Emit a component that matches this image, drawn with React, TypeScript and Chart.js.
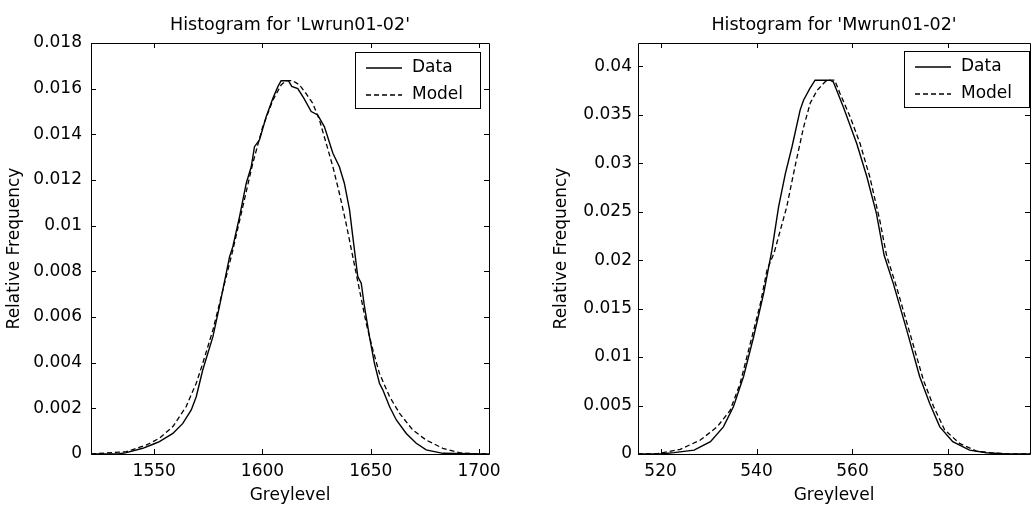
import React, { useEffect, useRef } from "react";
import { Chart, registerables } from "chart.js";

Chart.register(...registerables);

// ---------- Data: left panel (Lwrun01-02) ----------
const lwDataX = [1520.8, 1534, 1537.1, 1544.7, 1550, 1552.4, 1558.6, 1563.2, 1567.1, 1569.4, 1572.4, 1577.1, 1580.1, 1584.8, 1586.3, 1589.4, 1592.5, 1594.8, 1596.3, 1598.6, 1601.7, 1604.8, 1607.1, 1608.6, 1612, 1613.5, 1616.3, 1619, 1622.5, 1625.5, 1628.6, 1632.5, 1635.5, 1637.8, 1640.2, 1641.7, 1644, 1645.6, 1647.1, 1649.4, 1651.7, 1654, 1655.6, 1658.7, 1661.8, 1666.4, 1671, 1675.6, 1683.3, 1700, 1704.6];
const lwDataY = [0, 0.00001, 0.00006, 0.00025, 0.00045, 0.00054, 0.0009, 0.00134, 0.00193, 0.00251, 0.00368, 0.00514, 0.00645, 0.00864, 0.00908, 0.0104, 0.01186, 0.01258, 0.01346, 0.01375, 0.01477, 0.01558, 0.01609, 0.01635, 0.01635, 0.0161, 0.016, 0.0156, 0.015, 0.01485, 0.01433, 0.01317, 0.01258, 0.01186, 0.01069, 0.00952, 0.00777, 0.00748, 0.00645, 0.00514, 0.00397, 0.0031, 0.0028, 0.00207, 0.00149, 0.0009, 0.00047, 0.00018, 0.00003, 0, 0];

const lwModelX = [1520.8, 1537.1, 1546.3, 1552.4, 1558.6, 1564.7, 1569.4, 1572.4, 1577.1, 1581.7, 1586.3, 1590.9, 1595.5, 1600.1, 1604.8, 1608.6, 1610.9, 1614, 1617.1, 1620, 1623.2, 1626.3, 1629.4, 1632.5, 1635.5, 1638.6, 1641.7, 1644.8, 1647.9, 1651, 1654, 1658.7, 1663.3, 1669.4, 1675.6, 1683.3, 1691, 1698.7, 1704.6];
const lwModelY = [0, 0.0001, 0.00039, 0.00069, 0.0012, 0.00207, 0.0031, 0.00397, 0.00543, 0.00718, 0.00893, 0.01083, 0.01273, 0.01433, 0.0155, 0.01616, 0.01635, 0.01635, 0.01616, 0.0158, 0.01536, 0.01463, 0.01361, 0.01258, 0.01142, 0.0101, 0.00864, 0.00718, 0.00572, 0.00455, 0.00353, 0.00251, 0.00178, 0.00105, 0.00061, 0.00025, 0.00006, 0, 0];

const lwXTicks = [1550, 1600, 1650, 1700];
const lwYTicks = [0, 0.002, 0.004, 0.006, 0.008, 0.01, 0.012, 0.014, 0.016, 0.018];
const lwYTickLabels = ["0", "0.002", "0.004", "0.006", "0.008", "0.01", "0.012", "0.014", "0.016", "0.018"];

// ---------- Data: right panel (Mwrun01-02) ----------
const mwDataX = [515.3, 520, 522.8, 527, 530.4, 533.1, 535.2, 537.3, 539.4, 541.5, 543.2, 544.6, 546, 547.4, 549.1, 549.8, 551.1, 552.2, 555.3, 556, 558.1, 560.9, 563, 565, 566.6, 568.5, 571.3, 574, 576.1, 578.2, 580.9, 584.4, 587.9, 592, 597];
const mwDataY = [0, 0, 0.00014, 0.0004, 0.00127, 0.0028, 0.0049, 0.008, 0.0121, 0.0166, 0.021, 0.0255, 0.0289, 0.0317, 0.0355, 0.0365, 0.0377, 0.03856, 0.03856, 0.0384, 0.0358, 0.032, 0.0286, 0.0248, 0.0205, 0.0176, 0.0128, 0.008, 0.0052, 0.0028, 0.00127, 0.0004, 0.00013, 0, 0];

const mwModelX = [515.3, 519, 520, 524.1, 528.3, 531.8, 534.5, 536.6, 538.7, 540.8, 542.2, 543.7, 546.3, 548, 549.8, 551.2, 552.6, 554.3, 555, 556.3, 557.4, 559.5, 561.6, 563.6, 565.7, 567.1, 569.2, 572, 574.8, 576.9, 579.2, 582.3, 585.8, 589.3, 593, 597];
const mwModelY = [0, 0, 0.0001, 0.00048, 0.00144, 0.0028, 0.0045, 0.0073, 0.0114, 0.0155, 0.019, 0.0208, 0.0255, 0.0296, 0.0337, 0.0362, 0.0375, 0.0384, 0.03856, 0.03856, 0.0372, 0.0348, 0.032, 0.0286, 0.0241, 0.0205, 0.0172, 0.0124, 0.0076, 0.0049, 0.0025, 0.0011, 0.0003, 0.0001, 0, 0];

const mwXTicks = [520, 540, 560, 580];
const mwYTicks = [0, 0.005, 0.01, 0.015, 0.02, 0.025, 0.03, 0.035, 0.04];
const mwYTickLabels = ["0", "0.005", "0.01", "0.015", "0.02", "0.025", "0.03", "0.035", "0.04"];

// ---------- Text ----------
const panelTitles = ["Histogram for 'Lwrun01-02'", "Histogram for 'Mwrun01-02'"];
const xAxisLabel = "Greylevel";
const yAxisLabel = "Relative Frequency";
const seriesNames = ["Data", "Model"];

const FONT = "'DejaVu Sans', sans-serif";
const MODEL_DASH = [5, 3];

const axesBoxPlugin = {
  id: "axesBox",
  afterDraw(chart: any, _args: any, opts: any) {
    const { ctx, chartArea: a, scales } = chart;
    const L = opts.tickLen || 5;
    ctx.save();
    ctx.strokeStyle = "#000";
    ctx.lineWidth = 1;
    ctx.setLineDash([]);
    ctx.beginPath();
    ctx.rect(a.left + 0.5, a.top + 0.5, a.right - a.left, a.bottom - a.top);
    ctx.stroke();
    ctx.beginPath();
    (opts.xTicks || []).forEach((v: number) => {
      const p = Math.round(scales.x.getPixelForValue(v)) + 0.5;
      ctx.moveTo(p, a.bottom);
      ctx.lineTo(p, a.bottom - L);
      ctx.moveTo(p, a.top);
      ctx.lineTo(p, a.top + L);
    });
    (opts.yTicks || []).forEach((v: number) => {
      const p = Math.round(scales.y.getPixelForValue(v)) + 0.5;
      ctx.moveTo(a.left, p);
      ctx.lineTo(a.left + L, p);
      ctx.moveTo(a.right, p);
      ctx.lineTo(a.right - L, p);
    });
    ctx.stroke();
    ctx.restore();
  },
};

const boxLegendPlugin = {
  id: "boxLegend",
  afterDraw(chart: any, _args: any, opts: any) {
    const { ctx, chartArea: a } = chart;
    const w = opts.width;
    const h = opts.height;
    const left = Math.round(a.right - opts.right - w);
    const top = Math.round(a.top + opts.top);
    ctx.save();
    ctx.fillStyle = "#fff";
    ctx.fillRect(left, top, w, h);
    ctx.strokeStyle = "#000";
    ctx.lineWidth = 1;
    ctx.setLineDash([]);
    ctx.strokeRect(left + 0.5, top + 0.5, w, h);
    const rows = [
      { name: seriesNames[0], dash: [] as number[], base: 20 },
      { name: seriesNames[1], dash: MODEL_DASH, base: 47 },
    ];
    ctx.font = `17px ${FONT}`;
    ctx.textBaseline = "alphabetic";
    ctx.textAlign = "left";
    ctx.fillStyle = "#000";
    rows.forEach((r) => {
      ctx.beginPath();
      ctx.setLineDash(r.dash);
      ctx.lineWidth = 1.3;
      const ly = top + r.base - 4;
      ctx.moveTo(left + 11, ly);
      ctx.lineTo(left + 47, ly);
      ctx.stroke();
      ctx.fillText(r.name, left + 57, top + r.base);
    });
    ctx.restore();
  },
};

type Panel = {
  title: string;
  dataX: number[];
  dataY: number[];
  modelX: number[];
  modelY: number[];
  xMin: number;
  xMax: number;
  yMax: number;
  xTicks: number[];
  yTicks: number[];
  yLabels: string[];
  yAxisWidth: number;
  padRight: number;
  yTickPad: number;
  yTitlePad: number;
  legendRight: number;
  legendTop: number;
};

function makeConfig(p: Panel): any {
  const pts = (xs: number[], ys: number[]) => xs.map((x, i) => ({ x, y: ys[i] }));
  return {
    type: "line",
    data: {
      datasets: [
        {
          label: seriesNames[0],
          data: pts(p.dataX, p.dataY),
          borderColor: "#000",
          borderWidth: 1.4,
          pointRadius: 0,
          tension: 0,
          fill: false,
        },
        {
          label: seriesNames[1],
          data: pts(p.modelX, p.modelY),
          borderColor: "#000",
          borderWidth: 1.3,
          borderDash: MODEL_DASH,
          pointRadius: 0,
          tension: 0,
          fill: false,
        },
      ],
    },
    options: {
      responsive: false,
      animation: false,
      devicePixelRatio: 1,
      events: [],
      layout: { padding: { left: 0, right: p.padRight, top: 0, bottom: 0 }, autoPadding: false },
      plugins: {
        legend: { display: false },
        tooltip: { enabled: false },
        title: {
          display: true,
          text: p.title,
          color: "#000",
          fullSize: false,
          font: { family: FONT, size: 17.5, weight: "normal", lineHeight: 1.2 },
          padding: { top: 14.5, bottom: 7.5 },
        },
        axesBox: { xTicks: p.xTicks, yTicks: p.yTicks, tickLen: 5 },
        boxLegend: { right: p.legendRight, top: p.legendTop, width: 125, height: 56 },
      },
      scales: {
        x: {
          type: "linear",
          min: p.xMin,
          max: p.xMax,
          afterBuildTicks: (s: any) => {
            s.ticks = p.xTicks.map((v) => ({ value: v }));
          },
          afterFit: (s: any) => {
            s.height = 56;
          },
          grid: { display: false, drawTicks: false },
          border: { display: false },
          ticks: {
            color: "#000",
            font: { family: FONT, size: 17 },
            padding: 7,
            maxRotation: 0,
            autoSkip: false,
            callback: (v: number) => String(v),
          },
          title: {
            display: true,
            text: xAxisLabel,
            color: "#000",
            font: { family: FONT, size: 17, lineHeight: 1.2 },
            padding: { top: 0, bottom: 4.2 },
          },
        },
        y: {
          type: "linear",
          min: 0,
          max: p.yMax,
          afterBuildTicks: (s: any) => {
            s.ticks = p.yTicks.map((v) => ({ value: v }));
          },
          afterFit: (s: any) => {
            s.width = p.yAxisWidth;
          },
          grid: { display: false, drawTicks: false },
          border: { display: false },
          ticks: {
            color: "#000",
            font: { family: FONT, size: 17 },
            padding: p.yTickPad,
            autoSkip: false,
            callback: (_v: number, i: number) => p.yLabels[i],
          },
          title: {
            display: true,
            text: yAxisLabel,
            color: "#000",
            font: { family: FONT, size: 17, lineHeight: 1.2 },
            padding: { top: p.yTitlePad, bottom: 0 },
          },
        },
      },
    },
    plugins: [axesBoxPlugin, boxLegendPlugin],
  };
}

function ChartPanel({ panel, width, height, left }: { panel: Panel; width: number; height: number; left: number }) {
  const ref = useRef<HTMLCanvasElement | null>(null);
  useEffect(() => {
    if (!ref.current) return;
    const chart = new Chart(ref.current, makeConfig(panel));
    return () => chart.destroy();
  }, [panel]);
  return (
    <canvas
      ref={ref}
      width={width}
      height={height}
      style={{ position: "absolute", left, top: 0, width, height, display: "block" }}
    />
  );
}

const leftPanel: Panel = {
  title: panelTitles[0],
  dataX: lwDataX,
  dataY: lwDataY,
  modelX: lwModelX,
  modelY: lwModelY,
  xMin: 1520.8,
  xMax: 1704.6,
  yMax: 0.018,
  xTicks: lwXTicks,
  yTicks: lwYTicks,
  yLabels: lwYTickLabels,
  yAxisWidth: 91,
  padRight: 31,
  yTickPad: 9,
  yTitlePad: 4.8,
  legendRight: 9,
  legendTop: 9,
};

const rightPanel: Panel = {
  title: panelTitles[1],
  dataX: mwDataX,
  dataY: mwDataY,
  modelX: mwModelX,
  modelY: mwModelY,
  xMin: 515.3,
  xMax: 597,
  yMax: 0.0424,
  xTicks: mwXTicks,
  yTicks: mwYTicks,
  yLabels: mwYTickLabels,
  yAxisWidth: 118,
  padRight: 1,
  yTickPad: 6,
  yTitlePad: 31.6,
  legendRight: 1,
  legendTop: 8,
};

export default function App() {
  return (
    <div style={{ position: "fixed", left: 0, top: 0, width: 1031, height: 510, background: "#fff", overflow: "hidden" }}>
      <ChartPanel panel={leftPanel} width={520} height={510} left={0} />
      <ChartPanel panel={rightPanel} width={511} height={510} left={520} />
    </div>
  );
}
